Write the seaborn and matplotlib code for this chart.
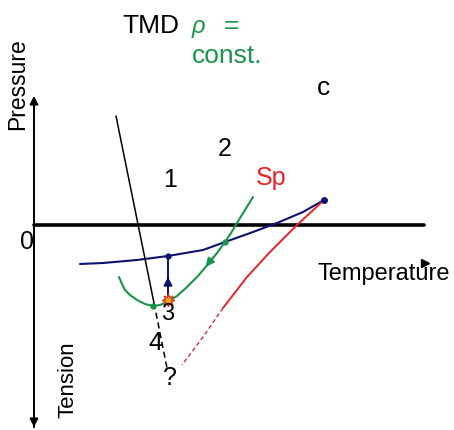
import matplotlib
matplotlib.use("Agg")
import matplotlib.pyplot as plt
import seaborn as sns

# schematic phase diagram of water, temperature vs pressure (origin at the axis crossing)
blue_T = [46, 69, 103, 134, 169, 191, 219, 243, 269, 290]
blue_P = [-39, -38, -35, -31, -25, -17, -7, 2, 13, 25]

green_T = [85, 88, 91, 96, 103, 111, 119, 126, 133, 143, 153, 164, 175, 183, 191, 197, 203, 211, 219]
green_P = [-52, -59, -65, -70, -75, -79, -81, -80, -77, -71, -62, -51, -38, -28, -17, -8, 2, 15, 28]

tmd_T = [82, 120]
tmd_P = [109, -78]
tmd_dash_T = [120, 133]
tmd_dash_P = [-78, -143]

sp_T = [290, 263, 236, 213, 189]
sp_P = [25, 0, -27, -52, -83]
sp_dash_T = [189, 169, 148]
sp_dash_P = [-83, -112, -140]

navy = "#0d1170"
green = "#1a9448"
red = "#e3242b"

sns.set_style("white")
plt.rcParams['font.family'] = ['Liberation Sans', 'DejaVu Sans']
plt.rcParams['text.color'] = 'black'

fig = plt.figure(figsize=(4.54, 4.3), dpi=100)
ax = fig.add_axes([0, 0, 1, 1])
ax.set_xlim(-34, 420)
ax.set_ylim(-205, 225)
ax.axis('off')

# axes of the diagram
ax.annotate("", xy=(0, 132), xytext=(0, -205),
            arrowprops=dict(arrowstyle="-|>", color="black", lw=1.4, mutation_scale=12))
ax.annotate("", xy=(0, -205), xytext=(0, 0),
            arrowprops=dict(arrowstyle="-|>", color="black", lw=1.4, mutation_scale=12))
ax.plot([0, 390], [0, 0], color="black", lw=2.6)
ax.plot([391], [-38], marker=">", color="black", ms=6)

# curves
sns.lineplot(x=blue_T, y=blue_P, sort=False, estimator=None, color=navy, lw=1.5, ax=ax)
sns.lineplot(x=green_T, y=green_P, sort=False, estimator=None, color=green, lw=1.5, ax=ax)
sns.lineplot(x=tmd_T, y=tmd_P, sort=False, estimator=None, color="black", lw=1.1, ax=ax)
sns.lineplot(x=tmd_dash_T, y=tmd_dash_P, sort=False, estimator=None, color="black",
             lw=1.1, linestyle=(0, (4, 2.5)), ax=ax)
sns.lineplot(x=sp_T, y=sp_P, sort=False, estimator=None, color=red, lw=1.4, ax=ax)
sns.lineplot(x=sp_dash_T, y=sp_dash_P, sort=False, estimator=None, color="#c8304a",
             lw=1.0, linestyle=(0, (3, 2)), ax=ax)

# markers and arrows
ax.plot([sp_T[0]], [sp_P[0]], marker="o", color=navy, ms=4)
ax.plot([green_T[6], green_T[14]], [green_P[6], green_P[14]], "o", color=green, ms=3.5)
ax.plot([blue_T[3], blue_T[3]], [-75, blue_P[3]], color=navy, lw=1.4)
ax.plot([blue_T[3]], [blue_P[3]], "o", color=navy, ms=3.5)
ax.annotate("", xy=(blue_T[3], -49), xytext=(blue_T[3], -62),
            arrowprops=dict(arrowstyle="-|>", color=navy, lw=1.2, mutation_scale=13))
ax.annotate("", xy=(170, -44), xytext=(181, -30),
            arrowprops=dict(arrowstyle="-|>", color=green, lw=1.2, mutation_scale=13))
ax.plot([134], [-75], marker=(8, 1, 0), color="#e8a020", mec="#d04020", ms=9)

# text labels
ax.text(-16, 141, "Pressure", rotation=90, fontsize=16.5, ha="center", va="center")
ax.text(34, -155, "Tension", rotation=90, fontsize=16, ha="center", va="center")
ax.text(-7, -17, "0", fontsize=18, ha="center", va="center")
ax.text(284, -55, "Temperature", fontsize=17, ha="left", va="baseline")
ax.text(88, 192, "TMD", fontsize=19, ha="left", va="baseline")
ax.text(158, 192, "ρ", fontsize=17, fontstyle="italic", color=green, ha="left", va="baseline")
ax.text(190, 192, "=", fontsize=19, color=green, ha="left", va="baseline")
ax.text(158, 162, "const.", fontsize=19, color=green, ha="left", va="baseline")
ax.text(289, 130, "c", fontsize=19, ha="center", va="baseline")
ax.text(191, 69, "2", fontsize=18, ha="center", va="baseline")
ax.text(136, 38, "1", fontsize=18, ha="center", va="baseline")
ax.text(222, 40, "Sp", fontsize=18, color=red, ha="left", va="baseline")
ax.text(134, -95, "3", fontsize=17, ha="center", va="baseline")
ax.text(121, -125, "4", fontsize=18, ha="center", va="baseline")
ax.text(136, -160, "?", fontsize=18, ha="center", va="baseline")

fig.savefig("out.png", dpi=100)
